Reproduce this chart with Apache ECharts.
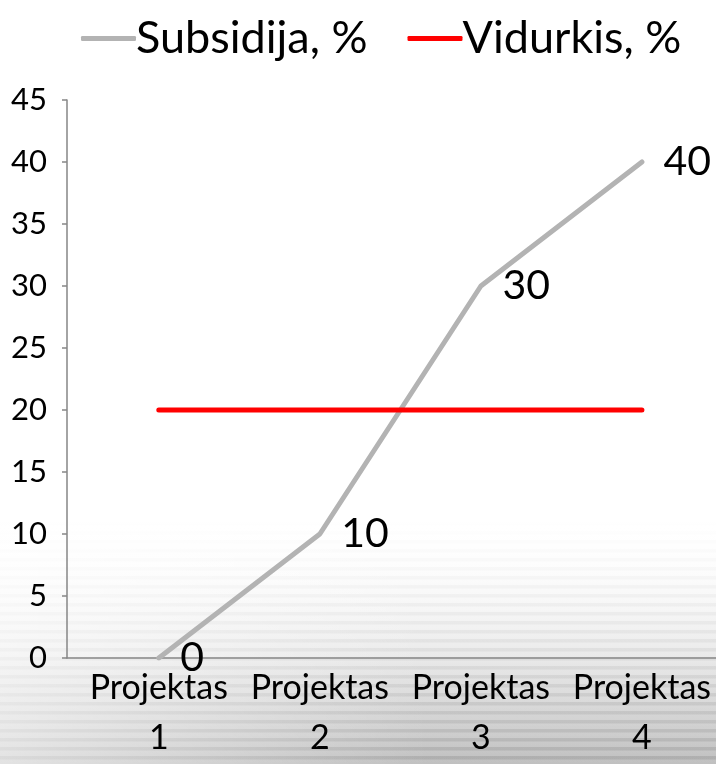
<!DOCTYPE html>
<html>
<head>
<meta charset="utf-8">
<script src="https://cdn.jsdelivr.net/npm/echarts@6/dist/echarts.min.js"></script>
<style>
html, body { margin: 0; padding: 0; }
#chart {
  width: 716px; height: 764px;
  background:
    linear-gradient(to right, rgba(255,255,255,0.55) 0%, rgba(255,255,255,0) 60%),
    linear-gradient(to bottom, #ffffff 0%, #ffffff 68%, rgba(255,255,255,0) 100%),
    repeating-linear-gradient(to bottom, rgba(0,0,0,0.10) 0px, rgba(0,0,0,0.10) 3px, rgba(0,0,0,0) 4px, rgba(0,0,0,0) 9px),
    linear-gradient(to bottom, #ffffff 0%, #ffffff 68%, #d0d0d0 90%, #c0c0c0 100%);
}
</style>
</head>
<body>
<div id="chart"></div>
<script>
var categories = ['Projektas 1', 'Projektas 2', 'Projektas 3', 'Projektas 4'];
var subsidija = [0, 10, 30, 40];
var vidurkis = [20, 20, 20, 20];
var seriesNames = ['Subsidija, %', 'Vidurkis, %'];
var yTicks = [0, 5, 10, 15, 20, 25, 30, 35, 40, 45];

function pairs(vals) {
  return vals.map(function (v, i) { return [i + 1, v]; });
}

var chart = echarts.init(document.getElementById('chart'), null, { renderer: 'canvas' });
var FONT = 'Lato';
var GRAY = '#b3b3b3', RED = '#ff0000';
chart.setOption({
  animation: false,
  backgroundColor: 'transparent',
  textStyle: { fontFamily: FONT },
  legend: {
    data: [
      { name: seriesNames[0], itemStyle: { color: GRAY } },
      { name: seriesNames[1], itemStyle: { color: RED } }
    ],
    top: 11,
    left: 76,
    itemWidth: 55,
    itemHeight: 5,
    itemGap: 40,
    icon: 'roundRect',
    textStyle: { fontFamily: FONT, fontSize: 45, color: '#000', padding: [0, 0, 0, -5] }
  },
  grid: { left: 67, right: 0, top: 100, bottom: 106, outerBoundsMode: 'none' },
  xAxis: {
    type: 'value',
    min: 0.43,
    max: 4.46,
    splitLine: { show: false },
    axisLine: { show: true, lineStyle: { color: '#868686', width: 1.5 } },
    axisTick: { show: false },
    axisLabel: {
      customValues: [1, 2, 3, 4],
      formatter: function (v) { return categories[Math.round(v) - 1].replace(' ', '\n'); },
      fontFamily: FONT, fontSize: 34, color: '#000', lineHeight: 50, margin: 5,
      align: 'center'
    }
  },
  yAxis: {
    type: 'value',
    min: yTicks[0],
    max: yTicks[yTicks.length - 1],
    interval: 5,
    splitLine: { show: false },
    axisLine: { show: true, lineStyle: { color: '#868686', width: 1.5 } },
    axisTick: { show: true, length: 5, lineStyle: { color: '#868686', width: 1.5 } },
    axisLabel: { fontFamily: FONT, fontSize: 31, color: '#000', margin: 20 }
  },
  series: [
    {
      name: seriesNames[0],
      type: 'line',
      data: pairs(subsidija),
      symbol: 'circle',
      symbolSize: 1,
      showSymbol: true,
      itemStyle: { color: 'rgba(0,0,0,0)' },
      lineStyle: { color: GRAY, width: 5, cap: 'round', join: 'round' },
      label: {
        show: true, position: 'right', distance: 21,
        fontFamily: FONT, fontSize: 41, color: '#000',
        formatter: function (p) { return p.value[1]; }
      }
    },
    {
      name: seriesNames[1],
      type: 'line',
      data: pairs(vidurkis),
      symbol: 'none',
      itemStyle: { color: RED },
      lineStyle: { color: RED, width: 5, cap: 'round', join: 'round' }
    }
  ]
});
</script>
</body>
</html>
